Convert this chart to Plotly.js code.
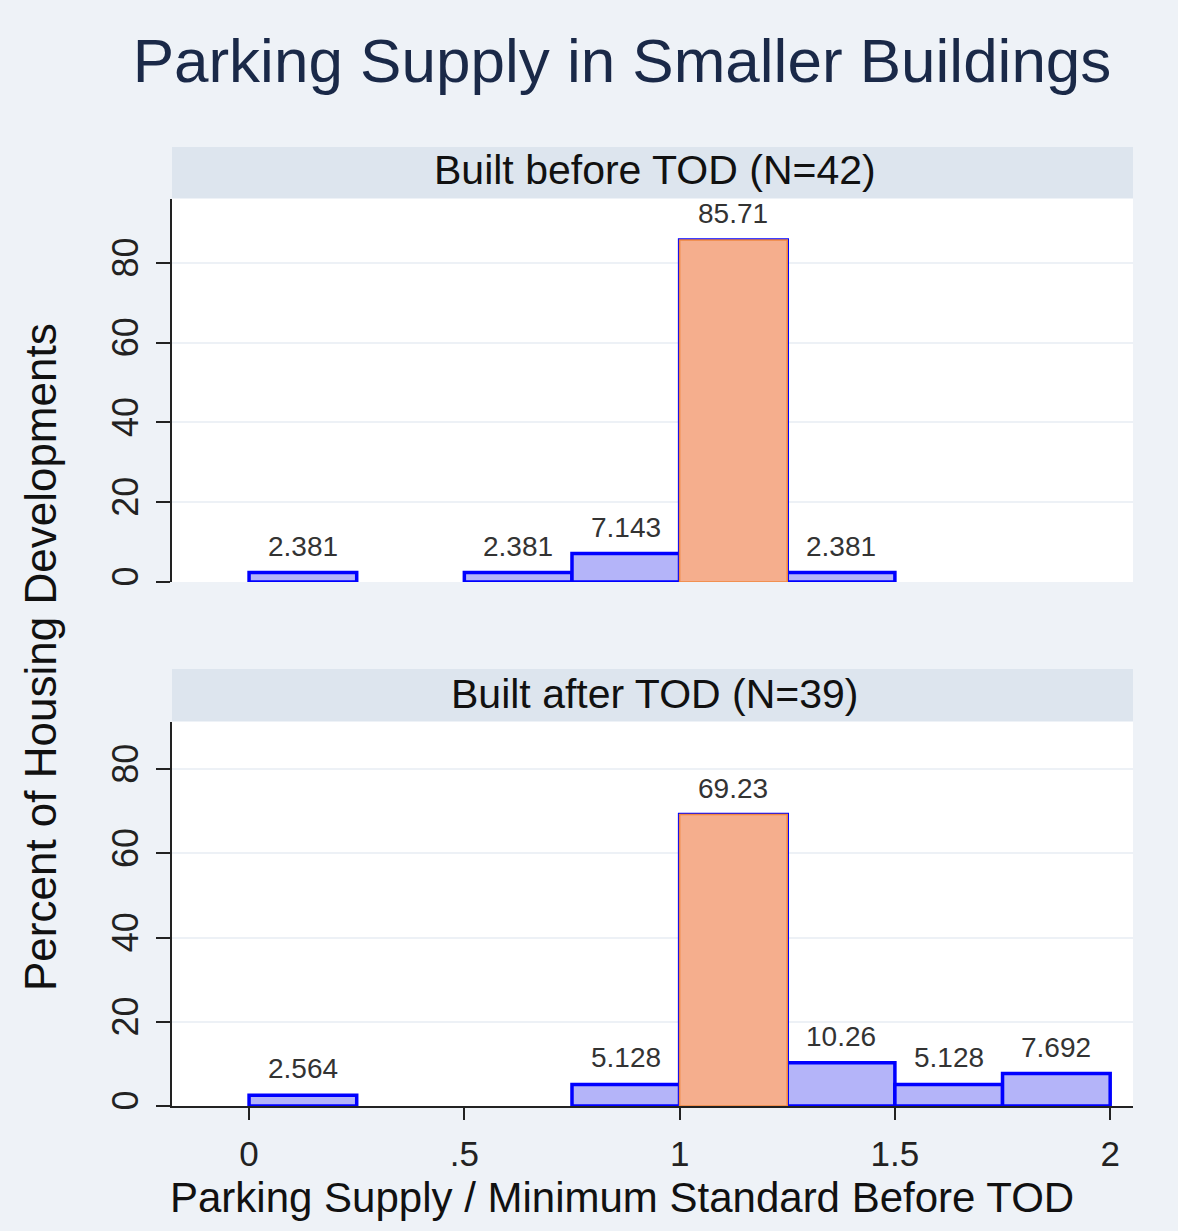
<!DOCTYPE html>
<html>
<head>
<meta charset="utf-8">
<script src="https://cdn.plot.ly/plotly-3.0.1.min.js"></script>
<style>
  html, body { margin: 0; padding: 0; background: #eef2f7; }
  #chart { width: 1178px; height: 1231px; }
</style>
</head>
<body>
<div id="chart"></div>
<script>
// Histogram bins: left edge of each bin, all bins are 0.25 wide
const binStart = [0, 0.25, 0.5, 0.75, 1, 1.25, 1.5, 1.75];
const binWidth = 0.25;
// Percent of developments per bin
const beforePct = [2.381, 0, 2.381, 7.143, 85.71, 2.381, 0, 0];
const afterPct = [2.564, 0, 0, 5.128, 69.23, 10.26, 5.128, 7.692];
// bin that meets the minimum standard (highlighted)
const highlightBin = 4;

const panelTitles = ["Built before TOD (N=42)", "Built after TOD (N=39)"];
const xTickVals = [0, 0.5, 1, 1.5, 2];
const xTickText = ["0", ".5", "1", "1.5", "2"];
const yTickVals = [0, 20, 40, 60, 80];

const FONT = "Liberation Sans, Arial, sans-serif";
const W = 1178, H = 1231;
const px = (v) => v / W;
const py = (v) => 1 - v / H;

function panelTraces(values, xa, ya) {
  const xs = [], ys = [];
  values.forEach((v, i) => {
    if (v > 0) { xs.push(binStart[i]); ys.push(v); }
  });
  return [
    {
      type: "bar", x: xs, y: ys, xaxis: xa, yaxis: ya,
      width: binWidth, offset: 0,
      marker: { color: "#b4b4f9", line: { color: "#0000ff", width: 3.5 } },
      hoverinfo: "skip", showlegend: false,
    },
    {
      type: "bar", x: [binStart[highlightBin]], y: [values[highlightBin]],
      xaxis: xa, yaxis: ya, width: binWidth, offset: 0,
      marker: { color: "#f5ae8d", line: { color: "#f0873f", width: 1.5 } },
      hoverinfo: "skip", showlegend: false,
    },
  ];
}

function valueLabels(values, xref, yref) {
  const out = [];
  values.forEach((v, i) => {
    if (v <= 0) return;
    out.push({
      x: binStart[i] + binWidth / 2, y: v, xref: xref, yref: yref,
      text: String(v), showarrow: false, yanchor: "bottom", yshift: 9,
      font: { family: FONT, size: 28, color: "#333333" },
    });
  });
  return out;
}

const data = [
  ...panelTraces(beforePct, "x", "y"),
  ...panelTraces(afterPct, "x2", "y2"),
];

const xRange = [-0.179, 2.053];
const xDomain = [px(172), px(1133)];

const yCommon = {
  tickvals: yTickVals, tickangle: -90,
  ticks: "outside", ticklen: 14, tickwidth: 2, tickcolor: "#222",
  showline: true, linecolor: "#222", linewidth: 2,
  showgrid: true, gridcolor: "#edf1f6", gridwidth: 2,
  zeroline: false, fixedrange: true,
  tickfont: { family: FONT, size: 36, color: "#222" },
  ticklabelstandoff: 4,
};

const layout = {
  width: W, height: H,
  margin: { l: 0, r: 0, t: 0, b: 0 },
  paper_bgcolor: "#eef2f7",
  plot_bgcolor: "#ffffff",
  barmode: "overlay",
  font: { family: FONT },
  title: {
    text: "Parking Supply in Smaller Buildings",
    x: px(622), xanchor: "center", y: py(60), yanchor: "middle",
    font: { family: FONT, size: 62, color: "#1a2948" },
  },
  xaxis: {
    domain: xDomain, range: xRange, anchor: "y",
    showline: false, ticks: "", showticklabels: false,
    showgrid: false, zeroline: false, fixedrange: true,
  },
  yaxis: Object.assign({}, yCommon, {
    domain: [py(582), py(199)], range: [0, 96], anchor: "x",
  }),
  xaxis2: {
    domain: xDomain, range: xRange, anchor: "y2",
    tickvals: xTickVals, ticktext: xTickText,
    ticks: "outside", ticklen: 12, tickwidth: 2, tickcolor: "#222",
    showline: true, linecolor: "#222", linewidth: 2,
    showgrid: false, zeroline: false, fixedrange: true,
    tickfont: { family: FONT, size: 35, color: "#222" },
    ticklabelstandoff: 4,
  },
  yaxis2: Object.assign({}, yCommon, {
    domain: [py(1106), py(722)], range: [0, 91.2], anchor: "x2",
  }),
  shapes: [
    { type: "rect", xref: "paper", yref: "paper",
      x0: px(172), x1: px(1133), y0: py(198), y1: py(147),
      fillcolor: "#dde5ee", line: { width: 0 }, layer: "below" },
    { type: "rect", xref: "paper", yref: "paper",
      x0: px(172), x1: px(1133), y0: py(721), y1: py(669),
      fillcolor: "#dde5ee", line: { width: 0 }, layer: "below" },
  ],
  annotations: [
    { text: panelTitles[0], xref: "paper", yref: "paper",
      x: px(655), y: py(170), xanchor: "center", yanchor: "middle",
      showarrow: false, font: { family: FONT, size: 41, color: "#111" } },
    { text: panelTitles[1], xref: "paper", yref: "paper",
      x: px(655), y: py(694), xanchor: "center", yanchor: "middle",
      showarrow: false, font: { family: FONT, size: 41, color: "#111" } },
    { text: "Percent of Housing Developments", xref: "paper", yref: "paper",
      x: px(40), y: py(657), xanchor: "center", yanchor: "middle",
      textangle: -90, showarrow: false,
      font: { family: FONT, size: 44, color: "#111" } },
    { text: "Parking Supply / Minimum Standard Before TOD", xref: "paper", yref: "paper",
      x: px(622), y: py(1197), xanchor: "center", yanchor: "middle",
      showarrow: false, font: { family: FONT, size: 42, color: "#111" } },
    ...valueLabels(beforePct, "x", "y"),
    ...valueLabels(afterPct, "x2", "y2"),
  ],
};

Plotly.newPlot("chart", data, layout, { displayModeBar: false, staticPlot: true });
</script>
</body>
</html>
